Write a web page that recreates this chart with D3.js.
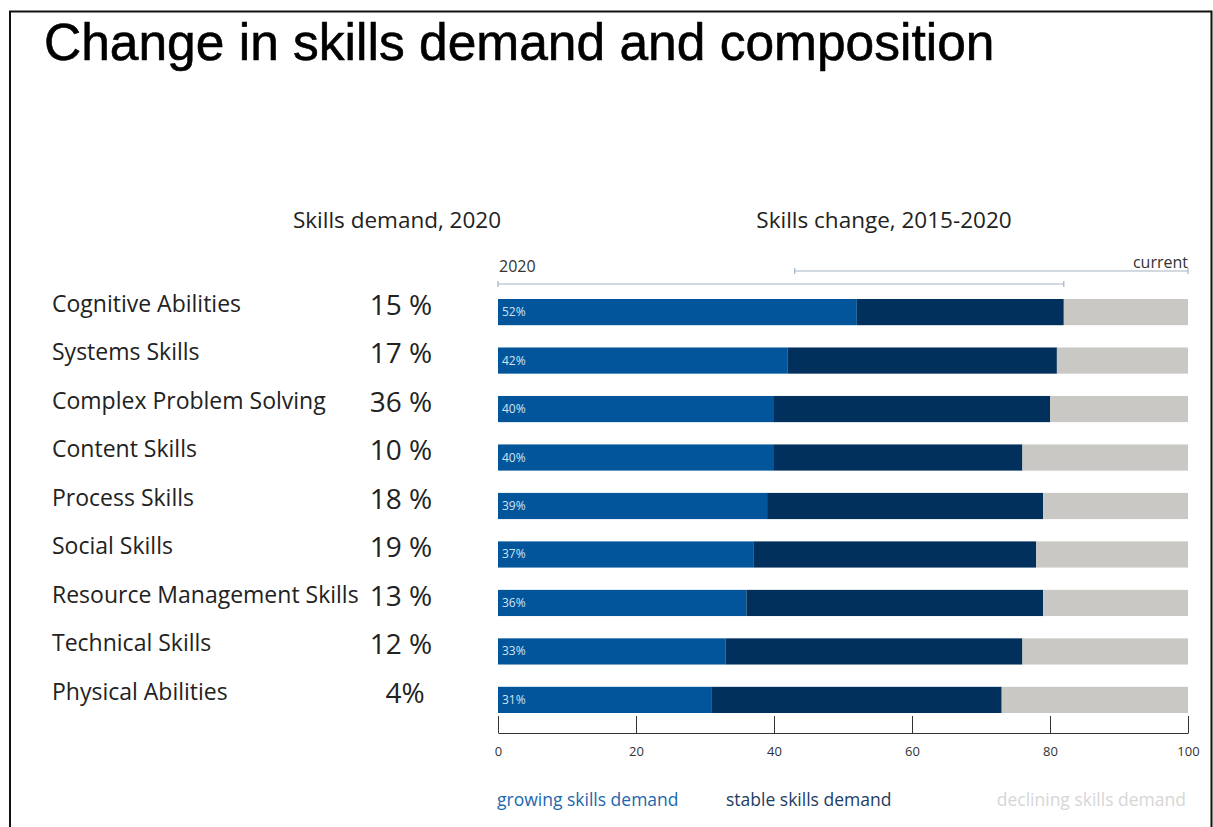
<!DOCTYPE html>
<html>
<head>
<meta charset="utf-8">
<script src="https://cdn.jsdelivr.net/npm/d3@7"></script>
<style>
  body { margin: 0; background: #fff; }
  svg text { font-family: "Open Sans", "Noto Sans", sans-serif; }
</style>
</head>
<body>
<div id="chart"></div>
<script>
// skills and values
const skills = ["Cognitive Abilities", "Systems Skills", "Complex Problem Solving", "Content Skills",
  "Process Skills", "Social Skills", "Resource Management Skills", "Technical Skills", "Physical Abilities"]
const demand2020 = [15, 17, 36, 10, 18, 19, 13, 12, 4]
const growing = [52, 42, 40, 40, 39, 37, 36, 33, 31]
const stable = [30, 39, 40, 36, 40, 41, 43, 43, 42]
const xTicks = [0, 20, 40, 60, 80, 100]
const bracket2020 = [0, 82]
const bracketCurrent = [43, 100]

const W = 1213, H = 827
const colors = { growing: "#02559a", stable: "#00305b", declining: "#c9c8c4" }

const svg = d3.select("#chart").append("svg")
  .attr("width", W)
  .attr("height", H)

// frame
svg.append("path")
  .attr("d", `M10,${H}V11.5H1211.5V${H}`)
  .attr("fill", "none")
  .attr("stroke", "#111")
  .attr("stroke-width", 2)

svg.append("text")
  .attr("x", 44)
  .attr("y", 60)
  .attr("font-size", "51.5px")
  .style("font-family", "'Liberation Sans', Arial, sans-serif")
  .attr("fill", "#000")
  .attr("stroke", "#000")
  .attr("stroke-width", 0.6)
  .text("Change in skills demand and composition")

const data = skills.map((s, i) => ({
  skill: s,
  demand: demand2020[i],
  growing: growing[i],
  stable: stable[i],
  declining: 100 - growing[i] - stable[i]
}))

const x = d3.scaleLinear().domain([0, 100]).range([498, 1188])
const y = d3.scaleBand().domain(skills).range([299, 713]).paddingInner(0.46).paddingOuter(0)

// headers
svg.append("text")
  .attr("x", 397).attr("y", 228)
  .attr("text-anchor", "middle")
  .attr("font-size", "22.5px")
  .attr("fill", "#222")
  .text("Skills demand,  2020")

svg.append("text")
  .attr("x", 884).attr("y", 228)
  .attr("text-anchor", "middle")
  .attr("font-size", "22.5px")
  .attr("fill", "#222")
  .text("Skills change, 2015-2020")

// brackets on top
const brackets = [
  { r: bracket2020, y: 284 },
  { r: bracketCurrent, y: 271 }
]
brackets.forEach(b => {
  svg.append("path")
    .attr("d", `M${x(b.r[0])},${b.y - 3}v6M${x(b.r[0])},${b.y}H${x(b.r[1])}M${x(b.r[1])},${b.y - 3}v6`)
    .attr("fill", "none")
    .attr("stroke", "#a7b3c2")
    .attr("stroke-width", 1.2)
})
svg.append("text")
  .attr("x", x(0) + 1).attr("y", 272)
  .attr("font-size", "16px")
  .attr("fill", "#333")
  .text("2020")
svg.append("text")
  .attr("x", x(100)).attr("y", 268)
  .attr("text-anchor", "end")
  .attr("font-size", "16px")
  .attr("fill", "#333")
  .text("current")

// left labels
const rows = svg.append("g")
rows.selectAll(".skill")
  .data(data)
  .enter().append("text")
  .attr("class", "skill")
  .attr("x", 52)
  .attr("y", d => y(d.skill) + 13)
  .attr("font-size", "23px")
  .attr("fill", "#222")
  .text(d => d.skill)

rows.selectAll(".demand")
  .data(data)
  .enter().append("text")
  .attr("class", "demand")
  .attr("x", d => d.demand < 10 ? 405 : 401)
  .attr("y", d => y(d.skill) + 16)
  .attr("text-anchor", "middle")
  .attr("font-size", "28px")
  .attr("fill", "#222")
  .text(d => d.demand + (d.demand < 10 ? "%" : " %"))

// stacked bars
const keys = ["growing", "stable", "declining"]
const stack = d3.stack().keys(keys)(data)

svg.append("g").selectAll("g")
  .data(stack)
  .enter().append("g")
  .attr("fill", d => colors[d.key])
  .selectAll("rect")
  .data(d => d)
  .enter().append("rect")
  .attr("x", d => x(d[0]))
  .attr("y", d => y(d.data.skill))
  .attr("width", d => x(d[1]) - x(d[0]))
  .attr("height", y.bandwidth())

svg.append("g").selectAll("text")
  .data(data)
  .enter().append("text")
  .attr("x", x(0) + 4)
  .attr("y", d => y(d.skill) + y.bandwidth() / 2 + 4)
  .attr("font-size", "12px")
  .attr("fill", "#d4e3f2")
  .text(d => d.growing + "%")

// axis
const axis = svg.append("g")
  .attr("transform", "translate(0,733)")
  .call(d3.axisBottom(x).tickValues(xTicks).tickSizeInner(-17).tickSizeOuter(0).tickPadding(14))
axis.select(".domain").attr("stroke", "#333")
axis.selectAll(".tick line").attr("stroke", "#333")
axis.selectAll(".tick text")
  .attr("font-size", "13px")
  .attr("fill", "#333")
  .style("font-family", "'Open Sans', sans-serif")

// legend
const legend = [
  { label: "growing skills demand", color: "#2068ad", x: 497, anchor: "start" },
  { label: "stable skills demand", color: "#1d3d63", x: 726, anchor: "start" },
  { label: "declining skills demand", color: "#d6d6d6", x: 1186, anchor: "end" }
]
svg.append("g").selectAll("text")
  .data(legend)
  .enter().append("text")
  .attr("x", d => d.x)
  .attr("y", 806)
  .attr("text-anchor", d => d.anchor)
  .attr("font-size", "17.5px")
  .attr("fill", d => d.color)
  .text(d => d.label)
</script>
</body>
</html>
